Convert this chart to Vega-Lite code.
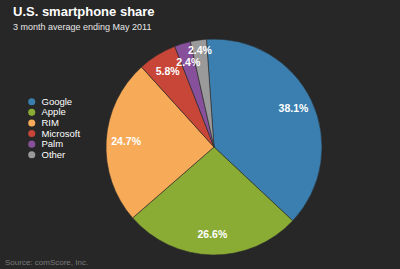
{
  "$schema": "https://vega.github.io/schema/vega-lite/v6.json",
  "width": 372,
  "height": 244,
  "autosize": {"type": "none"},
  "padding": {"left": 28, "top": 25, "right": 0, "bottom": 0},
  "background": "#272727",
  "view": {"stroke": null},
  "title": {
    "text": "U.S. smartphone share",
    "subtitle": "3 month average ending May 2011",
    "anchor": "start",
    "frame": "group",
    "dx": -15,
    "offset": -7,
    "font": "Liberation Sans",
    "fontSize": 13,
    "fontWeight": "bold",
    "color": "#ffffff",
    "subtitleFont": "Liberation Sans",
    "subtitleFontSize": 9,
    "subtitleColor": "#e6e6e6",
    "subtitlePadding": 4
  },
  "data": {
    "values": [
      {"rank": 1, "platform": "Google", "share": 38.1},
      {"rank": 2, "platform": "Apple", "share": 26.6},
      {"rank": 3, "platform": "RIM", "share": 24.7},
      {"rank": 4, "platform": "Microsoft", "share": 5.8},
      {"rank": 5, "platform": "Palm", "share": 2.4},
      {"rank": 6, "platform": "Other", "share": 2.4}
    ]
  },
  "transform": [{"calculate": "format(datum.share, '.1f') + '%'", "as": "label"}],
  "layer": [
    {
      "mark": {"type": "arc", "outerRadius": 108, "stroke": "#2a2a2a", "strokeWidth": 0.6},
      "encoding": {
        "theta": {"field": "share", "type": "quantitative", "stack": true, "scale": {"range": [-0.07, 6.2132]}},
        "order": {"field": "rank", "type": "quantitative"},
        "color": {
          "field": "platform",
          "type": "nominal",
          "sort": ["Google", "Apple", "RIM", "Microsoft", "Palm", "Other"],
          "scale": {
            "domain": ["Google", "Apple", "RIM", "Microsoft", "Palm", "Other"],
            "range": ["#3a7fb0", "#8aab34", "#f7aa58", "#c84637", "#87509a", "#9a9a9a"]
          },
          "legend": {
            "title": null,
            "orient": "none",
            "legendX": -1,
            "legendY": 72,
            "symbolType": "circle",
            "symbolSize": 50,
            "symbolStrokeWidth": 0,
            "labelFont": "Liberation Sans",
            "labelFontSize": 9.5,
            "labelColor": "#ffffff",
            "labelOffset": 5,
            "rowPadding": -0.4
          }
        }
      }
    },
    {
      "mark": {"type": "text", "radius": 88, "font": "Liberation Sans", "fontSize": 10.5, "fontWeight": "bold", "color": "#ffffff"},
      "encoding": {
        "theta": {"field": "share", "type": "quantitative", "stack": true, "scale": {"range": [-0.07, 6.2132]}},
        "order": {"field": "rank", "type": "quantitative"},
        "text": {"field": "label", "type": "nominal"},
        "detail": {"field": "platform"},
        "opacity": {"condition": {"test": "datum.platform === 'Other'", "value": 0}, "value": 1}
      }
    },
    {
      "mark": {"type": "text", "radius": 97, "font": "Liberation Sans", "fontSize": 10.5, "fontWeight": "bold", "color": "#ffffff"},
      "encoding": {
        "theta": {"field": "share", "type": "quantitative", "stack": true, "scale": {"range": [-0.07, 6.2132]}},
        "order": {"field": "rank", "type": "quantitative"},
        "text": {"field": "label", "type": "nominal"},
        "detail": {"field": "platform"},
        "opacity": {"condition": {"test": "datum.platform === 'Other'", "value": 1}, "value": 0}
      }
    },
    {
      "data": {"values": [{"note": "Source: comScore, Inc."}]},
      "mark": {"type": "text", "align": "left", "baseline": "alphabetic", "font": "Liberation Sans", "fontSize": 8, "color": "#7a7a7a"},
      "encoding": {
        "text": {"field": "note"},
        "x": {"value": -23},
        "y": {"value": 240}
      }
    }
  ]
}
